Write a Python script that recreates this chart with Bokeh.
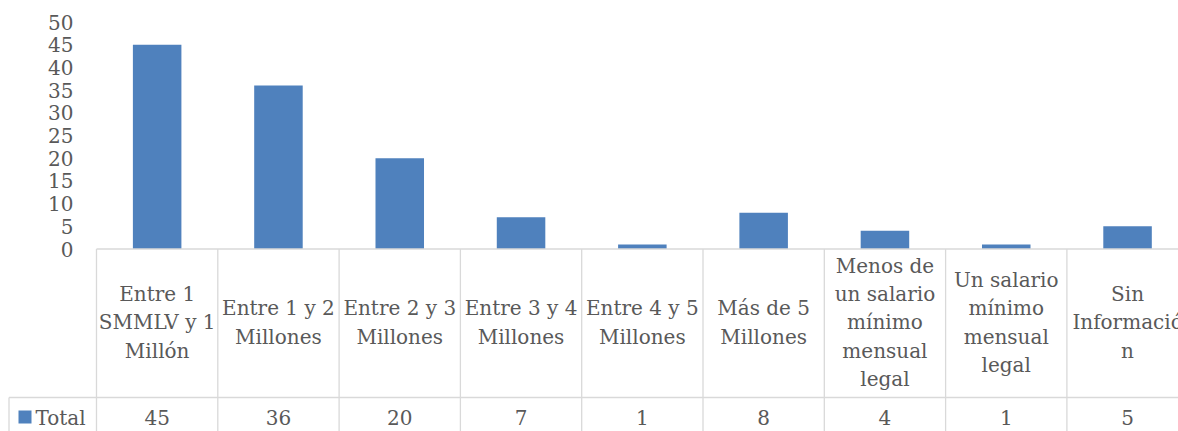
from bokeh.plotting import figure
from bokeh.models import Range1d, LinearAxis, FixedTicker, ColumnDataSource
from bokeh.core.properties import value
from bokeh.embed import file_html
from bokeh.resources import INLINE

categories = [
    "Entre 1\nSMMLV y 1\nMillón",
    "Entre 1 y 2\nMillones",
    "Entre 2 y 3\nMillones",
    "Entre 3 y 4\nMillones",
    "Entre 4 y 5\nMillones",
    "Más de 5\nMillones",
    "Menos de\nun salario\nmínimo\nmensual\nlegal",
    "Un salario\nmínimo\nmensual\nlegal",
    "Sin\nInformació\nn",
]
totals = [45, 36, 20, 7, 1, 8, 4, 1, 5]
yticks = [0, 5, 10, 15, 20, 25, 30, 35, 40, 45, 50]
series_name = "Total"

FONT = "DejaVu Serif"
TXT = "#595959"
GRID = "#d9d9d9"
BAR = "#4F81BD"

W, H = 1178, 431
col_px = 121.3          # pixel width of one table column
px_unit = 4.54          # pixels per value unit
x0_px = 96.0            # table left edge from canvas left
y0_px = 248.5           # value 0 from canvas top
leg_px = 8.5            # legend cell left edge

x_start = -0.5 - x0_px / col_px
x_end = -0.5 + (W - x0_px) / col_px
y_end = y0_px / px_unit
y_start = -(H - y0_px) / px_unit

row_div = -(397 - y0_px) / px_unit       # divider between label row and value row
cat_y = -(322 - y0_px) / px_unit
val_y = -(417 - y0_px) / px_unit

n = len(categories)
xs = list(range(n))

p = figure(width=W, height=H, output_backend="svg", toolbar_location=None,
           x_range=Range1d(x_start, x_end), y_range=Range1d(y_start, y_end),
           x_axis_location=None, y_axis_location=None,
           min_border=0, min_border_left=0, min_border_right=0,
           min_border_top=0, min_border_bottom=0)
p.outline_line_color = None
p.xgrid.visible = False
p.ygrid.visible = False
p.background_fill_color = "white"
p.border_fill_color = "white"

# bars
src = ColumnDataSource(dict(x=xs, top=totals, cat=categories,
                            lbl=[str(v) for v in totals]))
p.vbar(x="x", top="top", bottom=0, width=0.4, source=src,
       fill_color=BAR, line_color=None)

# table grid
leg_x = x_start + leg_px / col_px
bounds = [i - 0.5 for i in range(n + 1)]
p.segment(x0=bounds, y0=[0] * len(bounds), x1=bounds, y1=[y_start] * len(bounds),
          line_color=GRID, line_width=1.3)
p.segment(x0=[-0.5, leg_x], y0=[0, row_div],
          x1=[x_end, x_end], y1=[0, row_div], line_color=GRID, line_width=1.3)
p.segment(x0=[leg_x], y0=[row_div], x1=[leg_x], y1=[y_start],
          line_color=GRID, line_width=1.3)

# category labels and values
p.text(x="x", y=cat_y, text="cat", source=src, text_align="center",
       text_baseline="middle", text_font=value(FONT), text_font_size="20px",
       text_color=TXT, text_line_height=1.18)
p.text(x="x", y=val_y, text="lbl", source=src, text_align="center",
       text_baseline="middle", text_font=value(FONT), text_font_size="20px",
       text_color=TXT)

# legend key in table
p.scatter(x=[x_start + 24.5 / col_px], y=[val_y + 0.1], marker="square", size=13,
          fill_color=BAR, line_color=None)
p.text(x=[x_start + 35 / col_px], y=[val_y], text=[series_name], text_align="left",
       text_baseline="middle", text_font=value(FONT), text_font_size="20px",
       text_color=TXT)

# y axis
yaxis = LinearAxis(fixed_location=-0.5, ticker=FixedTicker(ticks=yticks),
                   axis_line_color=None, major_tick_line_color=None,
                   minor_tick_line_color=None, major_tick_out=0, major_tick_in=0,
                   minor_tick_out=0, major_label_standoff=23,
                   major_label_text_font=FONT, major_label_text_font_size="20px",
                   major_label_text_color=TXT)
p.add_layout(yaxis, "left")

open("out.html", "w").write(file_html(p, INLINE))
